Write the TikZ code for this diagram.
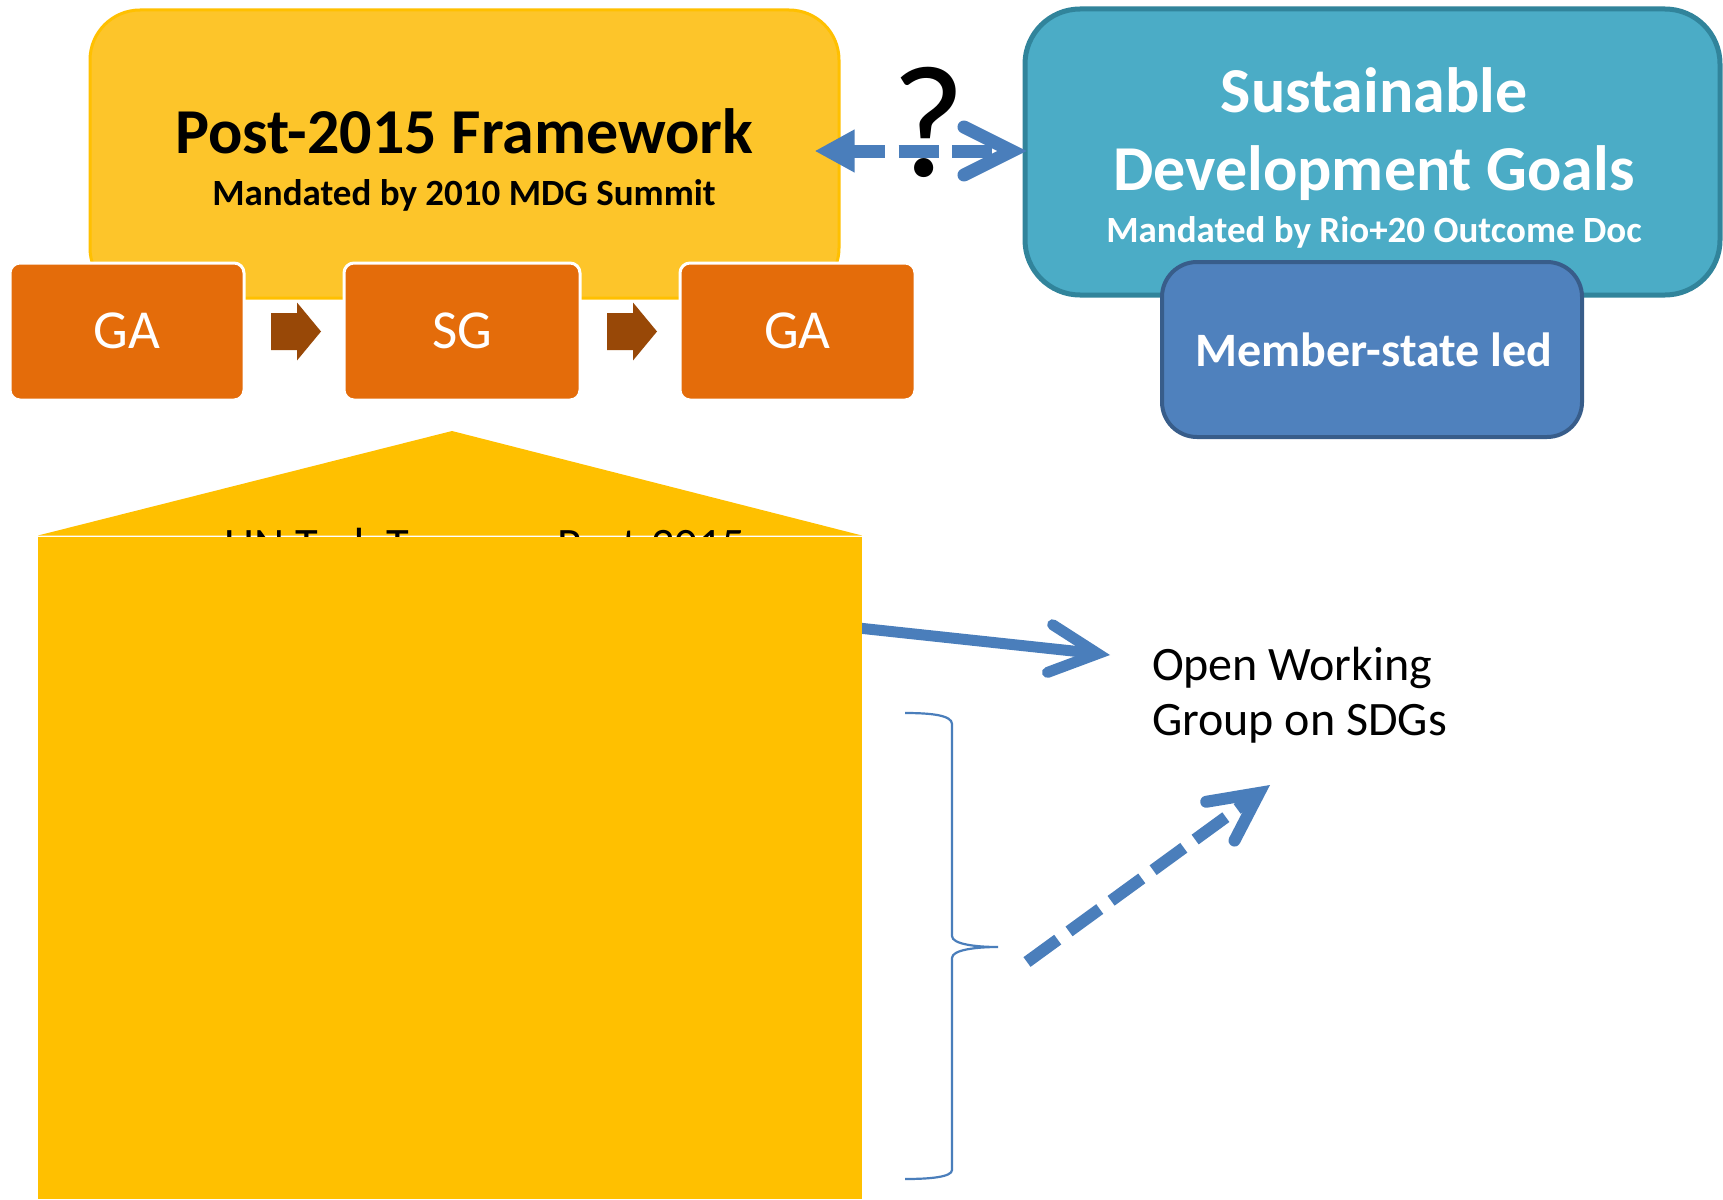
\documentclass[tikz,border=0pt]{standalone}
\usepackage{fontspec}
\setmainfont{Carlito}
\usetikzlibrary{arrows.meta,calc}
\definecolor{fwyellow}{RGB}{253,197,42}
\definecolor{fwborder}{RGB}{255,192,0}
\definecolor{lowyellow}{RGB}{255,192,0}
\definecolor{orangebox}{RGB}{228,108,10}
\definecolor{brownarr}{RGB}{152,72,7}
\definecolor{tealfill}{RGB}{75,172,198}
\definecolor{tealborder}{RGB}{49,132,155}
\definecolor{bluefill}{RGB}{79,129,189}
\definecolor{blueborder}{RGB}{56,93,138}
\definecolor{arrowblue}{RGB}{74,126,187}
\tikzset{
  blockarrow/.pic={\fill[brownarr] (-25,-18.5) -- (1,-18.5) -- (1,-29) -- (25,0) -- (1,29) -- (1,18.5) -- (-25,18.5) -- cycle;},
  fwbox/.style={draw=fwborder, fill=fwyellow, line width=3pt, rounded corners=50pt, minimum width=749pt, minimum height=288pt, inner sep=0pt},
  stagebox/.style={draw=white, fill=orangebox, line width=3pt, rounded corners=10pt, minimum height=137pt, inner sep=0pt},
  sdgbox/.style={draw=tealborder, fill=tealfill, line width=5pt, rounded corners=55pt, minimum width=695pt, minimum height=286pt, inner sep=0pt},
  memberbox/.style={draw=blueborder, fill=bluefill, line width=4pt, rounded corners=35pt, minimum width=420pt, minimum height=175pt, inner sep=0pt},
  lbl/.style={inner sep=0pt, outer sep=0pt, anchor=base},
  titlefont/.style={font=\bfseries\fontsize{64}{70}\selectfont},
  subfont/.style={font=\bfseries\fontsize{37}{42}\selectfont},
  stagefont/.style={font=\fontsize{55}{60}\selectfont, text=white},
  barbtip/.style={-{Straight Barb[length=48pt,width=48pt,line cap=round]}},
  dblarrow/.style={draw=arrowblue, line width=13pt, dash pattern=on 40pt off 13.5pt, dash phase=7pt,
    {Triangle[length=40pt,width=40pt]}-{Straight Barb[length=48pt,width=48pt,line cap=round]}},
  solidarrow/.style={draw=arrowblue, line width=11pt, barbtip},
  dasharrow/.style={draw=arrowblue, line width=12pt, dash pattern=on 38pt off 14pt, barbtip},
  bracestyle/.style={draw=arrowblue, line width=2.2pt}
}
\begin{document}
\begin{tikzpicture}[x=1pt,y=-1pt]
\useasboundingbox (0,0) rectangle (1723,1199);
\fill[white] (0,0) rectangle (1723,1199);

% Post-2015 framework
\node[fwbox] (fw) at (464.5,154) {};
\node[lbl, titlefont] (fwtitle) at (464,153) {Post-2015 Framework};
\node[lbl, subfont] (fwsub) at (464,205) {Mandated by 2010 MDG Summit};

% GA -> SG -> GA
\node[stagebox, minimum width=234pt] (ga1) at (127,331.5) {};
\node[stagebox, minimum width=236pt] (sg) at (462,331.5) {};
\node[stagebox, minimum width=235pt] (ga2) at (797.5,331.5) {};
\node[lbl, stagefont] (ga1t) at (127,348) {GA};
\node[lbl, stagefont] (sgt) at (462,348) {SG};
\node[lbl, stagefont] (ga2t) at (797.5,348) {GA};
\pic at ($(ga1.east)!0.5!(sg.west)+(2,0)$) {blockarrow};
\pic at ($(sg.east)!0.5!(ga2.west)+(2,0)$) {blockarrow};

% SDG box
\node[sdgbox] (sdg) at (1372.5,152) {};
\node[lbl, titlefont, text=white] (sdgt1) at (1374,112) {Sustainable};
\node[lbl, titlefont, text=white] (sdgt2) at (1374,190) {Development Goals};
\node[lbl, subfont, text=white] (sdgsub) at (1374,242) {Mandated by Rio+20 Outcome Doc};
\node[memberbox] (member) at (1372,349.5) {};
\node[lbl, text=white, font=\bfseries\fontsize{48}{52}\selectfont] (membert) at (1374,366) {Member-state led};

% double arrow with question mark
\draw[dblarrow] ([xshift=-26pt,yshift=3pt]fw.east) -- ([xshift=4pt,yshift=1pt]sdg.west);
\node[lbl, font=\fontsize{160}{160}\selectfont] (qm) at (929,176) {?};

% UN Task Team shape
\fill[lowyellow] (38,535.5) -- (452,431) -- (862,535.5) -- cycle;
\node[lbl, font=\fontsize{46.5}{52}\selectfont] (untt) at (485,560) {UN Task Team on Post-2015};
\coordinate (solidstart) at (700,611);
\coordinate (solidtip) at (1110,655);
\draw[solidarrow] (solidstart) -- (solidtip);
\node[fill=lowyellow, minimum width=824pt, minimum height=662pt, inner sep=0pt, outer sep=0pt, anchor=north west] (lowrect) at (38,537) {};

% Open Working Group
\node[lbl, anchor=base west, align=left, font=\fontsize{48}{55}\selectfont] (owg) at (1152,735) {Open Working\\Group on SDGs};

% brace
\coordinate (bracetop) at (905,713);
\coordinate (bracemid) at (998,947);
\coordinate (bracebot) at (905,1179);
\draw[bracestyle] (bracetop) .. controls (930,713) and (952,715) .. (952,724) -- (952,936)
  .. controls (952,944) and (975,947) .. (bracemid)
  .. controls (975,947) and (952,950) .. (952,958) -- (952,1170)
  .. controls (952,1177) and (930,1179) .. (bracebot);

% dashed arrow
\coordinate (dashstart) at (1027,962);
\coordinate (dashtip) at (1270,785);
\draw[dasharrow] (dashstart) -- (dashtip);
\end{tikzpicture}
\end{document}
